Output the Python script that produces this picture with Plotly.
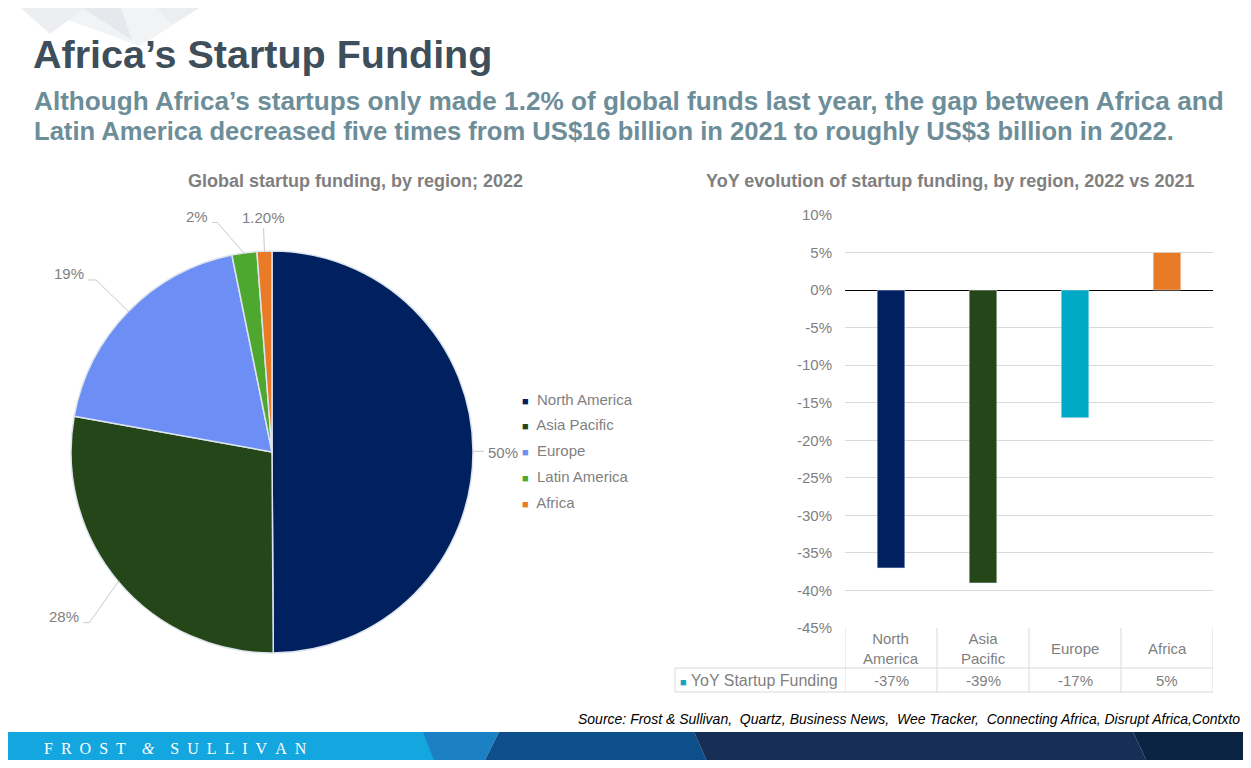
import math
import plotly.graph_objects as go

# The page keeps the browser's default 8px body margin, so the figure is sized to
# fill the 1251x768 window exactly (no scrolling) and all layout positions below
# are given in window pixels and converted to paper coordinates.
WIN_W, WIN_H = 1251, 768
OFF = 8
FW, FH = WIN_W - 2 * OFF, WIN_H - 2 * OFF

# ---------------- data ----------------
pie_regions = ["North America", "Asia Pacific", "Europe", "Latin America", "Africa"]
pie_shares = [50, 28, 19, 2, 1.2]
pie_label_text = ["50%", "28%", "19%", "2%", "1.20%"]

bar_regions = ["North America", "Asia Pacific", "Europe", "Africa"]
yoy_change = [-37, -39, -17, 5]
y_tick_values = [10, 5, 0, -5, -10, -15, -20, -25, -30, -35, -40, -45]
y_tick_labels = ["10%", "5%", "0%", "-5%", "-10%", "-15%", "-20%", "-25%",
                 "-30%", "-35%", "-40%", "-45%"]
series_name = "YoY Startup Funding"

# ---------------- styles ----------------
pie_colors = ["#002060", "#254619", "#6c8ef5", "#4ea72e", "#e97a26"]
bar_colors = ["#002060", "#254619", "#00a9c6", "#e97a26"]
series_key_color = "#1aa5bb"
GRAY = "#7f7f7f"
FONT = "Liberation Sans, Arial, sans-serif"

def X(px):
    return (px - OFF) / FW

def Y(py):
    return 1 - (py - OFF) / FH

# pie geometry (window pixels)
PCX, PCY, PR = 272, 452, 200
label_reach = [1.06, 1.25, 1.23, 1.18, 1.12]
label_turn = [0, -3, 0, -5.5, 0]          # degrees, leader-line direction tweak
label_tail = [0, 6, 8, 5, 0]
label_side = ["right", "left", "left", "left", "top"]

# bar plot area (window pixels)
BX0, BX1, BY0, BY1 = 845, 1213, 215, 628
ROW1_BOTTOM, ROW2_BOTTOM, ROW2_LEFT = 668, 692, 675

fig = go.Figure()

PD = PR * 1.005
fig.add_trace(go.Pie(
    labels=pie_regions, values=pie_shares, sort=False, direction="clockwise",
    rotation=0, textinfo="none", showlegend=False,
    marker=dict(colors=pie_colors, line=dict(color="#dce4ec", width=1.5)),
    domain=dict(x=[X(PCX - PD), X(PCX + PD)], y=[Y(PCY + PD), Y(PCY - PD)]),
    hovertemplate="%{label}: %{value}%<extra></extra>",
))

fig.add_trace(go.Bar(
    x=bar_regions, y=yoy_change, marker_color=bar_colors, width=0.3,
    name=series_name, showlegend=False, xaxis="x", yaxis="y",
    hovertemplate="%{x}: %{y}%<extra></extra>",
))

shapes = []
annotations = []

# ---- top-left decoration ----
deco = [
    ([(12, 0), (212, 0), (140, 46)], "#f1f3f5"),
    ([(12, 0), (95, 0), (50, 34)], "#eceef1"),
    ([(70, 0), (118, 0), (132, 40)], "#e5e8ec"),
    ([(150, 0), (212, 0), (172, 24)], "#ebedf0"),
]
for pts, col in deco:
    path = "M " + " L ".join(f"{X(a)},{Y(b)}" for a, b in pts) + " Z"
    shapes.append(dict(type="path", xref="paper", yref="paper", path=path,
                       fillcolor=col, line=dict(width=0), layer="below"))

# ---- footer band ----
footer = [
    ([(0, 732), (425, 732), (437, 768), (0, 768)], "#14a6df"),
    ([(423, 732), (499, 732), (481, 768), (437, 768)], "#1b80c4"),
    ([(499, 732), (694, 732), (710, 768), (481, 768)], "#0c4f8b"),
    ([(694, 732), (1133, 732), (1150, 768), (710, 768)], "#172e57"),
    ([(1133, 732), (1251, 732), (1251, 768), (1150, 768)], "#0b2441"),
]
for pts, col in footer:
    path = "M " + " L ".join(f"{X(a)},{Y(b)}" for a, b in pts) + " Z"
    shapes.append(dict(type="path", xref="paper", yref="paper", path=path,
                       fillcolor=col, line=dict(width=0), layer="below"))

annotations.append(dict(
    x=X(42), y=Y(748), xref="paper", yref="paper", xanchor="left", yanchor="middle",
    text="F\u2002R\u2002O\u2002S\u2002T\u2003<i>&amp;</i>\u2003S\u2002U\u2002L\u2002L\u2002I\u2002V\u2002A\u2002N",
    showarrow=False, font=dict(family="Liberation Serif, serif", size=16, color="white"),
))

# ---- titles ----
annotations.append(dict(
    x=X(31), y=Y(54), xref="paper", yref="paper", xanchor="left", yanchor="middle",
    text="<b>Africa’s Startup Funding</b>", showarrow=False,
    font=dict(family=FONT, size=39.5, color="#3e4e5a"),
))
annotations.append(dict(
    x=X(32), y=Y(101), xref="paper", yref="paper", xanchor="left", yanchor="middle",
    text="<b>Although Africa’s startups only made 1.2% of global funds last year, the gap between Africa and</b>",
    showarrow=False, font=dict(family=FONT, size=26.15, color="#6d8e99"),
))
annotations.append(dict(
    x=X(32), y=Y(131), xref="paper", yref="paper", xanchor="left", yanchor="middle",
    text="<b>Latin America decreased five times from US$16 billion in 2021 to roughly US$3 billion in 2022.</b>",
    showarrow=False, font=dict(family=FONT, size=25.6, color="#6d8e99"),
))
annotations.append(dict(
    x=X(355), y=Y(181), xref="paper", yref="paper", xanchor="center", yanchor="middle",
    text="<b>Global startup funding, by region; 2022</b>", showarrow=False,
    font=dict(family=FONT, size=18, color=GRAY),
))
annotations.append(dict(
    x=X(950), y=Y(181), xref="paper", yref="paper", xanchor="center", yanchor="middle",
    text="<b>YoY evolution of startup funding, by region, 2022 vs 2021</b>", showarrow=False,
    font=dict(family=FONT, size=18, color=GRAY),
))

# ---- pie data labels with leader lines ----
total = sum(pie_shares)
cum = 0.0
for i, v in enumerate(pie_shares):
    mid = (cum + v / 2) / total * 2 * math.pi
    cum += v
    turn = mid + math.radians(label_turn[i])
    sx, sy = PCX + PR * math.sin(mid), PCY - PR * math.cos(mid)
    ex, ey = PCX + label_reach[i] * PR * math.sin(turn), PCY - label_reach[i] * PR * math.cos(turn)
    side = label_side[i]
    if side == "left":
        tx = ex - label_tail[i]
    elif side == "right":
        tx = ex + label_tail[i]
    else:
        tx = ex
    shapes.append(dict(type="path", xref="paper", yref="paper",
                       path=f"M {X(sx)},{Y(sy)} L {X(ex)},{Y(ey)} L {X(tx)},{Y(ey)}",
                       line=dict(color="#c9c9c9", width=1)))
    if side == "left":
        ann = dict(x=X(tx - 2), y=Y(ey - 6), xanchor="right", yanchor="middle")
    elif side == "right":
        ann = dict(x=X(tx + 2), y=Y(ey + 1), xanchor="left", yanchor="middle")
    else:
        ann = dict(x=X(tx), y=Y(ey), xanchor="center", yanchor="bottom")
    ann.update(xref="paper", yref="paper", text=pie_label_text[i], showarrow=False,
               font=dict(family=FONT, size=15, color=GRAY))
    annotations.append(ann)

# ---- pie legend ----
for i, name in enumerate(pie_regions):
    annotations.append(dict(
        x=X(520), y=Y(399 + i * 25.75), xref="paper", yref="paper",
        xanchor="left", yanchor="middle", showarrow=False,
        text=f'<span style="color:{pie_colors[i]};font-size:11px">■</span>  {name}',
        font=dict(family=FONT, size=15, color=GRAY),
    ))

# ---- data table under bar chart ----
line_style = dict(color="#d9d9d9", width=1)
for k in range(len(bar_regions) + 1):
    shapes.append(dict(type="line", xref="x", yref="paper", x0=k - 0.5, x1=k - 0.5,
                       y0=Y(BY1), y1=Y(ROW2_BOTTOM), line=line_style))
shapes.append(dict(type="line", xref="paper", yref="paper", x0=X(ROW2_LEFT), x1=X(ROW2_LEFT),
                   y0=Y(ROW1_BOTTOM), y1=Y(ROW2_BOTTOM), line=line_style))
for yy in (ROW1_BOTTOM, ROW2_BOTTOM):
    shapes.append(dict(type="line", xref="paper", yref="paper", x0=X(ROW2_LEFT), x1=X(BX1),
                       y0=Y(yy), y1=Y(yy), line=line_style))

for name, v in zip(bar_regions, yoy_change):
    annotations.append(dict(
        x=name, xref="x", y=Y((BY1 + ROW1_BOTTOM) / 2), yref="paper",
        xanchor="center", yanchor="middle", showarrow=False,
        text=name.replace(" ", "<br>"),
        font=dict(family=FONT, size=15, color=GRAY),
    ))
    annotations.append(dict(
        x=name, xref="x", y=Y((ROW1_BOTTOM + ROW2_BOTTOM) / 2), yref="paper",
        xanchor="center", yanchor="middle", showarrow=False,
        text=f"{v}%", font=dict(family=FONT, size=15, color=GRAY),
    ))
annotations.append(dict(
    x=X(ROW2_LEFT + 3), y=Y((ROW1_BOTTOM + ROW2_BOTTOM) / 2), xref="paper", yref="paper",
    xanchor="left", yanchor="middle", showarrow=False,
    text=f'<span style="color:{series_key_color};font-size:11px">■</span> {series_name}',
    font=dict(family=FONT, size=16, color=GRAY),
))

# ---- source ----
annotations.append(dict(
    x=X(1242), y=Y(719), xref="paper", yref="paper", xanchor="right", yanchor="middle",
    showarrow=False,
    text="<i>Source: Frost &amp; Sullivan,  Quartz, Business News,  Wee Tracker,  Connecting Africa, Disrupt Africa,Contxto</i>",
    font=dict(family=FONT, size=14, color="black"),
))

fig.update_layout(
    width=FW, height=FH, autosize=False,
    margin=dict(l=0, r=0, t=0, b=0),
    paper_bgcolor="white", plot_bgcolor="white",
    showlegend=False,
    xaxis=dict(domain=[X(BX0), X(BX1)], range=[-0.5, 3.5], showticklabels=False,
               showgrid=False, zeroline=False, showline=False, fixedrange=True),
    yaxis=dict(domain=[Y(BY1), Y(BY0)], range=[-45, 10], tickvals=y_tick_values,
               ticktext=y_tick_labels, showgrid=True, gridcolor="#d9d9d9", gridwidth=1,
               zeroline=True, zerolinecolor="black", zerolinewidth=1, showline=False,
               ticks="", ticklabelstandoff=12, automargin=False,
               tickfont=dict(family=FONT, size=15, color=GRAY), fixedrange=True),
    shapes=shapes, annotations=annotations,
    font=dict(family=FONT),
)

fig.write_html("out.html", config={"displayModeBar": False})
